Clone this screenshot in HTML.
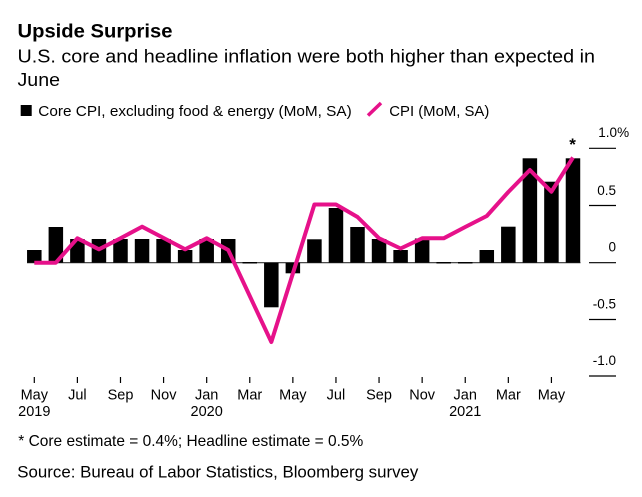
<!DOCTYPE html>
<html><head><meta charset="utf-8"><style>
html,body{margin:0;padding:0;background:#fff;}
svg{display:block;}
text{font-family:"Liberation Sans",Arial,sans-serif;fill:#000;}
</style></head><body>
<svg width="642" height="497" viewBox="0 0 642 497" xmlns="http://www.w3.org/2000/svg">
<rect width="642" height="497" fill="#fff"/>
<text x="17.5" y="37.5" font-size="19" font-weight="bold" textLength="155" lengthAdjust="spacingAndGlyphs">Upside Surprise</text>
<text x="17.5" y="62.3" font-size="18" textLength="577.5" lengthAdjust="spacingAndGlyphs">U.S. core and headline inflation were both higher than expected in</text>
<text x="17.5" y="86" font-size="18" textLength="42.5" lengthAdjust="spacingAndGlyphs">June</text>
<rect x="20.7" y="105" width="11" height="11" fill="#000"/>
<text x="38.3" y="116" font-size="15" textLength="313.4" lengthAdjust="spacingAndGlyphs">Core CPI, excluding food &amp; energy (MoM, SA)</text>
<line x1="368" y1="115.5" x2="381" y2="103" stroke="#e6118a" stroke-width="3.5"/>
<text x="389.3" y="116" font-size="15" textLength="100" lengthAdjust="spacingAndGlyphs">CPI (MoM, SA)</text>

<g stroke="#000" stroke-width="1.2">
<line x1="589" y1="148.3" x2="616" y2="148.3"/>
<line x1="589" y1="205.5" x2="616" y2="205.5"/>
<line x1="589" y1="262.7" x2="616" y2="262.7"/>
<line x1="589" y1="319.5" x2="616" y2="319.5"/>
<line x1="589" y1="376" x2="616" y2="376"/>
</g>
<g font-size="13.5">
<text x="598.3" y="137">1.0%</text>
<text x="616" y="195" text-anchor="end">0.5</text>
<text x="616" y="251.5" text-anchor="end">0</text>
<text x="616" y="308.5" text-anchor="end">-0.5</text>
<text x="616" y="365" text-anchor="end">-1.0</text>
</g>

<line x1="27" y1="262.7" x2="580.5" y2="262.7" stroke="#333" stroke-width="1.2"/>
<g fill="#000">
<rect x="27.05" y="250" width="14.5" height="12.7"/>
<rect x="48.6" y="227" width="14.5" height="35.7"/>
<rect x="70.14" y="239" width="14.5" height="23.7"/>
<rect x="91.69" y="239" width="14.5" height="23.7"/>
<rect x="113.24" y="239" width="14.5" height="23.7"/>
<rect x="134.79" y="239" width="14.5" height="23.7"/>
<rect x="156.33" y="239" width="14.5" height="23.7"/>
<rect x="177.88" y="250" width="14.5" height="12.7"/>
<rect x="199.43" y="239" width="14.5" height="23.7"/>
<rect x="220.97" y="239" width="14.5" height="23.7"/>
<rect x="242.52" y="262" width="14.5" height="1.5"/>
<rect x="264.07" y="262.7" width="14.5" height="44.6"/>
<rect x="285.61" y="262.7" width="14.5" height="10.6"/>
<rect x="307.16" y="239.3" width="14.5" height="23.4"/>
<rect x="328.71" y="208" width="14.5" height="54.7"/>
<rect x="350.26" y="227" width="14.5" height="35.7"/>
<rect x="371.8" y="239" width="14.5" height="23.7"/>
<rect x="393.35" y="250" width="14.5" height="12.7"/>
<rect x="414.9" y="238.5" width="14.5" height="24.2"/>
<rect x="436.44" y="262" width="14.5" height="1.5"/>
<rect x="457.99" y="262" width="14.5" height="1.5"/>
<rect x="479.54" y="250" width="14.5" height="12.7"/>
<rect x="501.08" y="226.7" width="14.5" height="36"/>
<rect x="522.63" y="158.3" width="14.5" height="104.4"/>
<rect x="544.18" y="181.7" width="14.5" height="81"/>
<rect x="565.73" y="158.3" width="14.5" height="104.4"/>
</g>

<polyline fill="none" stroke="#e6118a" stroke-width="4" stroke-linejoin="round" stroke-linecap="butt"
points="34.3,262.7 55.85,262.7 77.39,238.3 98.94,249.3 120.49,238.3 142.04,226.7 163.58,238 185.13,249.3 206.68,238.3 228.22,250 249.77,296 271.32,342 292.86,273.5 314.41,204.5 335.96,204.5 357.51,217 379.05,238.3 400.6,248.5 422.15,238.3 443.69,238.3 465.24,227 486.79,216 508.33,192 529.88,170 551.43,191.7 572.98,157.5"/>
<text x="572.5" y="150" font-size="17" font-weight="bold" text-anchor="middle">*</text>

<g stroke="#000" stroke-width="1.2">
<line x1="34.3" y1="377" x2="34.3" y2="383"/>
<line x1="77.39" y1="377" x2="77.39" y2="383"/>
<line x1="120.49" y1="377" x2="120.49" y2="383"/>
<line x1="163.58" y1="377" x2="163.58" y2="383"/>
<line x1="206.68" y1="377" x2="206.68" y2="383"/>
<line x1="249.77" y1="377" x2="249.77" y2="383"/>
<line x1="292.86" y1="377" x2="292.86" y2="383"/>
<line x1="335.96" y1="377" x2="335.96" y2="383"/>
<line x1="379.05" y1="377" x2="379.05" y2="383"/>
<line x1="422.15" y1="377" x2="422.15" y2="383"/>
<line x1="465.24" y1="377" x2="465.24" y2="383"/>
<line x1="508.33" y1="377" x2="508.33" y2="383"/>
<line x1="551.43" y1="377" x2="551.43" y2="383"/>
</g>
<g font-size="14.5" text-anchor="middle">
<text x="34.3" y="399.5">May</text>
<text x="77.39" y="399.5">Jul</text>
<text x="120.49" y="399.5">Sep</text>
<text x="163.58" y="399.5">Nov</text>
<text x="206.68" y="399.5">Jan</text>
<text x="249.77" y="399.5">Mar</text>
<text x="292.86" y="399.5">May</text>
<text x="335.96" y="399.5">Jul</text>
<text x="379.05" y="399.5">Sep</text>
<text x="422.15" y="399.5">Nov</text>
<text x="465.24" y="399.5">Jan</text>
<text x="508.33" y="399.5">Mar</text>
<text x="551.43" y="399.5">May</text>
<text x="34.3" y="416">2019</text>
<text x="206.68" y="416">2020</text>
<text x="465.24" y="416">2021</text>
</g>

<text x="18.3" y="446" font-size="16" textLength="345" lengthAdjust="spacingAndGlyphs">* Core estimate = 0.4%; Headline estimate = 0.5%</text>
<text x="17.3" y="477.3" font-size="16.5" textLength="401" lengthAdjust="spacingAndGlyphs">Source: Bureau of Labor Statistics, Bloomberg survey</text>
</svg>
</body></html>
